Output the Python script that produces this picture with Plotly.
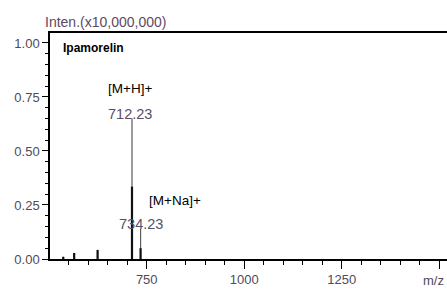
import plotly.graph_objects as go

# Peak list (m/z) and relative intensities (x10,000,000)
peak_mz = [536.0, 564.0, 624.0, 712.23, 734.23]
peak_top = [0.010, 0.028, 0.042, 0.650, 0.140]     # full stick height (thin grey)
peak_core = [0.010, 0.028, 0.042, 0.335, 0.050]    # dark lower portion

x_tickvals = [750, 1000, 1250, 1500]
x_ticktext = ["750", "1000", "1250", ""]
y_tickvals = [0.0, 0.25, 0.5, 0.75, 1.0]

labels = [
    ("[M+H]+", 708.0, 0.79, "center"),
    ("[M+Na]+", 750.0, 0.272, "left"),
]
mass_labels = [("712.23", 707.0, 0.671), ("734.23", 735.0, 0.162)]


def sticks(mz, h):
    xs, ys = [], []
    for m, v in zip(mz, h):
        xs += [m, m, None]
        ys += [0, v, None]
    return xs, ys


fig = go.Figure()
xs, ys = sticks(peak_mz, peak_top)
fig.add_trace(go.Scatter(x=xs, y=ys, mode="lines", line=dict(color="#5a5a5a", width=1.2),
                         hoverinfo="skip", showlegend=False))
xs, ys = sticks(peak_mz, peak_core)
fig.add_trace(go.Scatter(x=xs, y=ys, mode="lines", line=dict(color="#111111", width=2.2),
                         hoverinfo="skip", showlegend=False))

tickfont = dict(family="Liberation Sans, Arial, sans-serif", size=13, color="#4f4a58")
ann = []
ann.append(dict(text="<b>Ipamorelin</b>", x=530, y=0.977, xref="x", yref="y", showarrow=False,
                xanchor="left", yanchor="middle",
                font=dict(family="Liberation Sans, Arial, sans-serif", size=12, color="black")))
for t, x, y, xa in labels:
    ann.append(dict(text=t, x=x, y=y, xref="x", yref="y", showarrow=False, xanchor=xa,
                    yanchor="middle",
                    font=dict(family="Liberation Sans, Arial, sans-serif", size=13.5, color="black")))
for t, x, y in mass_labels:
    ann.append(dict(text=t, x=x, y=y, xref="x", yref="y", showarrow=False, xanchor="center",
                    yanchor="middle",
                    font=dict(family="Liberation Sans, Arial, sans-serif", size=14.5, color="#55506a")))
ann.append(dict(text="Inten.(x10,000,000)", x=-0.018, y=1.049, xref="paper", yref="paper",
                showarrow=False, xanchor="left", yanchor="middle",
                font=dict(family="Liberation Sans, Arial, sans-serif", size=14, color="#5e4a5e")))
ann.append(dict(text="m/z", x=0.997, y=-0.097, xref="paper", yref="paper",
                showarrow=False, xanchor="right", yanchor="middle", font=tickfont))

fig.update_layout(
    width=447, height=291,
    margin=dict(l=50, r=0, t=33, b=32),
    paper_bgcolor="white", plot_bgcolor="white",
    annotations=ann,
    xaxis=dict(range=[502, 1520], showgrid=False, zeroline=False,
               showline=True, linecolor="black", linewidth=1.5, mirror=True,
               tickvals=x_tickvals, ticktext=x_ticktext,
               ticks="outside", ticklen=8, tickwidth=1.2, tickcolor="black",
               minor=dict(dtick=50, tick0=500, ticks="outside", ticklen=4, tickcolor="black", tickwidth=1),
               tickfont=tickfont),
    yaxis=dict(range=[0, 1.046], showgrid=False, zeroline=False,
               showline=True, linecolor="black", linewidth=1.5,
               tickvals=y_tickvals, tickformat=".2f",
               ticks="outside", ticklen=6, tickwidth=1.2, tickcolor="black",
               minor=dict(dtick=0.05, tick0=0, ticks="outside", ticklen=3, tickcolor="black", tickwidth=1),
               tickfont=tickfont),
)

fig.write_html("out.html", config={"displayModeBar": False},
               post_script="document.body.style.margin='0';document.body.style.overflow='hidden';")
